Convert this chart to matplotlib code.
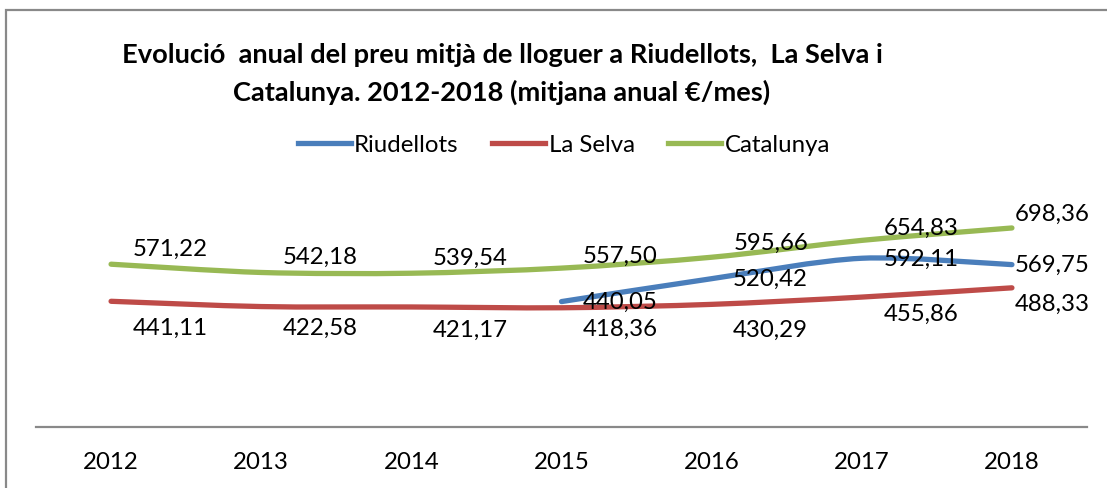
import matplotlib
matplotlib.use("Agg")
import numpy as np
import matplotlib.pyplot as plt
from matplotlib.path import Path
from matplotlib.patches import PathPatch, Rectangle
from matplotlib.lines import Line2D

years = ["2012", "2013", "2014", "2015", "2016", "2017", "2018"]
riudellots = [None, None, None, 440.05, 520.42, 592.11, 569.75]
la_selva = [441.11, 422.58, 421.17, 418.36, 430.29, 455.86, 488.33]
catalunya = [571.22, 542.18, 539.54, 557.50, 595.66, 654.83, 698.36]

names = ["Riudellots", "La Selva", "Catalunya"]
colors = ["#4A7EBB", "#BE4B48", "#98B954"]

# label offsets in pixels (dx, dy) relative to each point
label_dx = [59, 59, 59, 59, 59, 59, 40]
dy_riu = [1, 1, 1, 1, 1, 1, 1]
dy_sel = [27, 22, 23, 22, 26, 17, 17]
dy_cat = [-15, -15, -15, -12, -14, -12, -14]

plt.rcParams["font.family"] = ["Lato", "DejaVu Sans"]


def smooth_path(xs, ys):
    # excel style smoothed line: bezier segments through the points
    pts = np.column_stack([xs, ys]).astype(float)
    n = len(pts)
    verts = [pts[0]]
    codes = [Path.MOVETO]
    for i in range(n - 1):
        p0 = pts[max(i - 1, 0)]
        p1 = pts[i]
        p2 = pts[i + 1]
        p3 = pts[min(i + 2, n - 1)]
        c1 = p1 + (p2 - p0) / 7.0
        c2 = p2 - (p3 - p1) / 7.0
        verts += [c1, c2, p2]
        codes += [Path.CURVE4] * 3
    return Path(verts, codes)


fig = plt.figure(figsize=(11.07, 4.88), dpi=100)
ax = fig.add_axes([36 / 1107, 61 / 488, 1051 / 1107, 228 / 488])

series = [riudellots, la_selva, catalunya]
dys = [dy_riu, dy_sel, dy_cat]
for vals, col, dy in zip(series, colors, dys):
    idx = [i for i, v in enumerate(vals) if v is not None]
    xs = idx
    ys = [vals[i] for i in idx]
    patch = PathPatch(smooth_path(xs, ys), fill=False, edgecolor=col,
                      lw=3.8, capstyle="round", joinstyle="round")
    ax.add_patch(patch)
    for i in idx:
        lab = f"{vals[i]:.2f}".replace(".", ",")
        ax.annotate(lab, (i, vals[i]), xytext=(label_dx[i] * 0.72, -dy[i] * 0.72),
                    textcoords="offset points", ha="center", va="center",
                    fontsize=17.3, color="black")

ax.set_xlim(-0.5, 6.5)
ax.set_ylim(0, 800)
ax.set_xticks(range(len(years)))
ax.set_xticklabels(years, fontsize=17.3)
ax.tick_params(axis="x", length=0, pad=18)
ax.set_yticks([])
for s in ["top", "left", "right"]:
    ax.spines[s].set_visible(False)
ax.spines["bottom"].set_color("#898989")
ax.spines["bottom"].set_linewidth(1.6)

fig.text(502 / 1107, 1 - 55 / 488, "Evolució  anual del preu mitjà de lloguer a Riudellots,  La Selva i",
         ha="center", va="center", fontsize=19.6, fontweight="bold")
fig.text(502 / 1107, 1 - 92 / 488, "Catalunya. 2012-2018 (mitjana anual €/mes)",
         ha="center", va="center", fontsize=19.6, fontweight="bold")

handles = [Line2D([], [], color=c, lw=3.8) for c in colors]
fig.legend(handles, names, loc="center", bbox_to_anchor=(564 / 1107, 1 - 145 / 488),
           ncol=3, frameon=False, fontsize=17.3, handlelength=2.2, handletextpad=0.15,
           columnspacing=1.4)

# outer chart frame (only top and left edges visible)
fig.patches.append(Rectangle((6 / 1107, -0.5), 2, 1.5 - 10 / 488, transform=fig.transFigure,
                             fill=False, edgecolor="#898989", lw=1.6))

fig.savefig("out.png", dpi=100)
